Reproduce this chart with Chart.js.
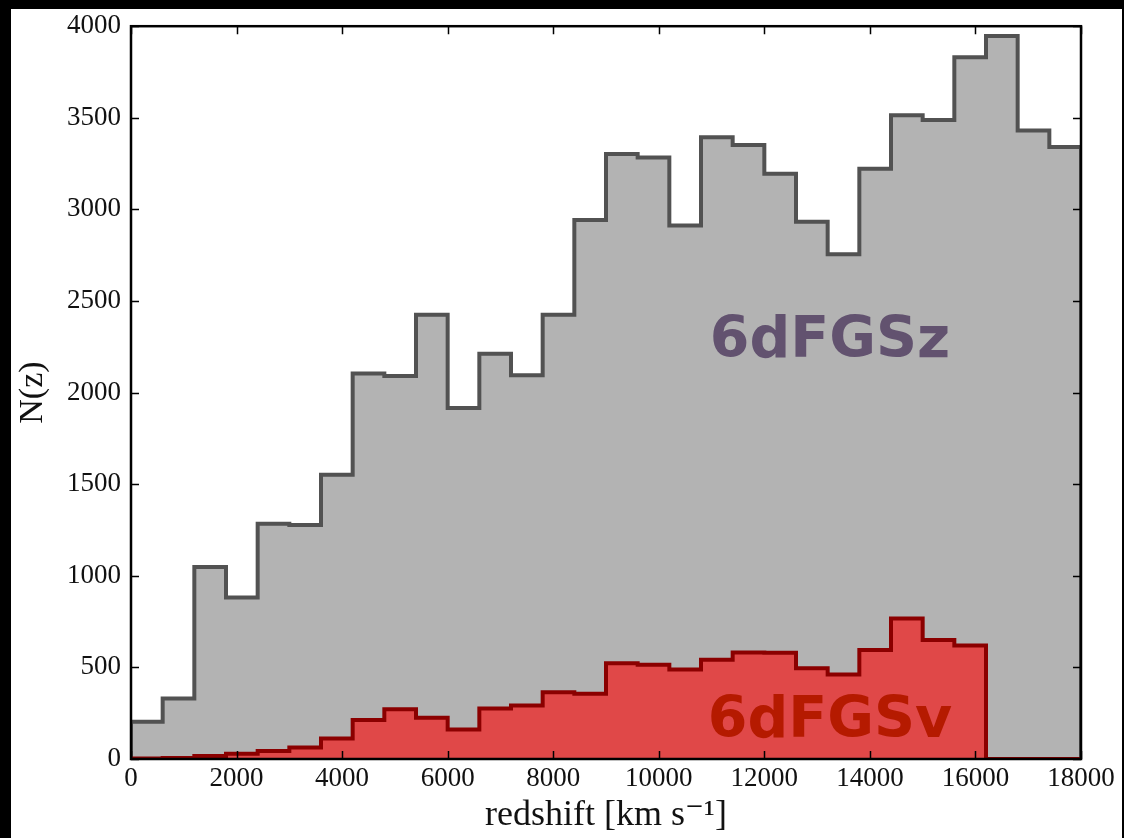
<!DOCTYPE html>
<html>
<head>
<meta charset="utf-8">
<script src="https://cdn.jsdelivr.net/npm/chart.js@4"></script>
<style>
  body { margin: 0; background: #000; }
  #sheet { position: absolute; left: 11px; top: 9px; width: 1111px; height: 829px; background: #fff; }
  #chart { position: absolute; left: 0; top: 0; }
</style>
</head>
<body>
<div id="sheet"></div>
<canvas id="chart" width="1124" height="838"></canvas>
<script>
// края бинов (км/с)
const binEdges = [0, 600, 1200, 1800, 2400, 3000, 3600, 4200, 4800, 5400, 6000,
  6600, 7200, 7800, 8400, 9000, 9600, 10200, 10800, 11400, 12000,
  12600, 13200, 13800, 14400, 15000, 15600, 16200, 16800, 17400, 18000];

// 6dFGSz - все красные смещения
const zCounts = [203, 330, 1048, 882, 1284, 1277, 1551, 2104, 2090, 2425,
  1916, 2212, 2095, 2425, 2942, 3302, 3283, 2912, 3394, 3352,
  3195, 2933, 2755, 3222, 3514, 3488, 3830, 3946, 3430, 3341];

// 6dFGSv - выборка пекулярных скоростей
const vCounts = [3, 6, 16, 29, 44, 63, 112, 213, 272, 225,
  161, 276, 292, 365, 356, 522, 515, 488, 542, 582,
  580, 495, 461, 595, 767, 649, 620, 0, 0, 0];

const xTicks = [0, 2000, 4000, 6000, 8000, 10000, 12000, 14000, 16000, 18000];
const yTicks = [0, 500, 1000, 1500, 2000, 2500, 3000, 3500, 4000];

// подписи выборок: [текст, x, y (базовая линия), цвет]
const sampleLabels = [
  ['6dFGSz', 13244, 2193, '#62526f'],
  ['6dFGSv', 13244, 120, '#b51a00']
];

function toSteps(counts) {
  const pts = [{ x: binEdges[0], y: 0 }];
  counts.forEach((c, i) => pts.push({ x: binEdges[i], y: c }));
  pts.push({ x: binEdges[binEdges.length - 1], y: 0 });
  return pts;
}

const serif = '"Liberation Serif", "DejaVu Serif", serif';

const framePlugin = {
  id: 'framePlugin',
  afterDatasetsDraw(chart) {
    const ctx = chart.ctx;
    const a = chart.chartArea;
    const xs = chart.scales.x, ys = chart.scales.y;
    ctx.save();

    // подписи
    sampleLabels.forEach(([text, vx, vy, color]) => {
      ctx.font = 'bold 57px "DejaVu Sans", sans-serif';
      ctx.fillStyle = color;
      ctx.textAlign = 'center';
      ctx.textBaseline = 'alphabetic';
      ctx.fillText(text, xs.getPixelForValue(vx), ys.getPixelForValue(vy));
    });

    // засечки внутрь, со всех сторон
    ctx.strokeStyle = '#000';
    ctx.lineWidth = 1.5;
    const len = 8;
    ctx.beginPath();
    xTicks.forEach(v => {
      const px = Math.round(xs.getPixelForValue(v)) + 0.5;
      ctx.moveTo(px, a.bottom); ctx.lineTo(px, a.bottom - len);
      ctx.moveTo(px, a.top); ctx.lineTo(px, a.top + len);
    });
    yTicks.forEach(v => {
      const py = Math.round(ys.getPixelForValue(v)) + 0.5;
      ctx.moveTo(a.left, py); ctx.lineTo(a.left + len, py);
      ctx.moveTo(a.right, py); ctx.lineTo(a.right - len, py);
    });
    ctx.stroke();

    // рамка
    ctx.lineWidth = 2.5;
    ctx.strokeRect(a.left, a.top, a.right - a.left, a.bottom - a.top);
    ctx.restore();
  }
};

new Chart(document.getElementById('chart'), {
  type: 'line',
  data: {
    datasets: [
      {
        label: '6dFGSz',
        data: toSteps(zCounts),
        stepped: 'before',
        borderColor: '#525252',
        borderWidth: 4,
        backgroundColor: '#b3b3b3',
        fill: 'origin',
        pointRadius: 0,
        order: 2
      },
      {
        label: '6dFGSv',
        data: toSteps(vCounts),
        stepped: 'before',
        borderColor: '#8b0000',
        borderWidth: 4,
        backgroundColor: '#e04848',
        fill: 'origin',
        pointRadius: 0,
        order: 1
      }
    ]
  },
  options: {
    responsive: false,
    animation: false,
    events: [],
    layout: { padding: { left: 0, right: 43, top: 24, bottom: 0 } },
    plugins: {
      legend: { display: false },
      tooltip: { enabled: false }
    },
    scales: {
      x: {
        type: 'linear',
        min: 0,
        max: 18000,
        afterBuildTicks: s => { s.ticks = xTicks.map(v => ({ value: v })); },
        afterFit: s => { s.height = 79; },
        grid: { display: false, drawTicks: false },
        border: { display: false },
        ticks: {
          padding: 4,
          color: '#111',
          font: { family: serif, size: 27 },
          maxRotation: 0,
          autoSkip: false,
          callback: v => String(v)
        },
        title: {
          display: true,
          text: 'redshift [km s⁻¹]',
          color: '#111',
          font: { family: serif, size: 36 },
          padding: { top: 0, bottom: 1 }
        }
      },
      y: {
        type: 'linear',
        min: 0,
        max: 4000,
        afterBuildTicks: s => { s.ticks = yTicks.map(v => ({ value: v })); },
        afterFit: s => { s.width = 131; },
        grid: { display: false, drawTicks: false },
        border: { display: false },
        ticks: {
          padding: 10,
          color: '#111',
          font: { family: serif, size: 27 },
          autoSkip: false,
          callback: v => String(v)
        },
        title: {
          display: true,
          text: 'N(z)',
          color: '#111',
          font: { family: serif, size: 34 },
          padding: { top: 13, bottom: 0 }
        }
      }
    }
  },
  plugins: [framePlugin]
});
</script>
</body>
</html>
